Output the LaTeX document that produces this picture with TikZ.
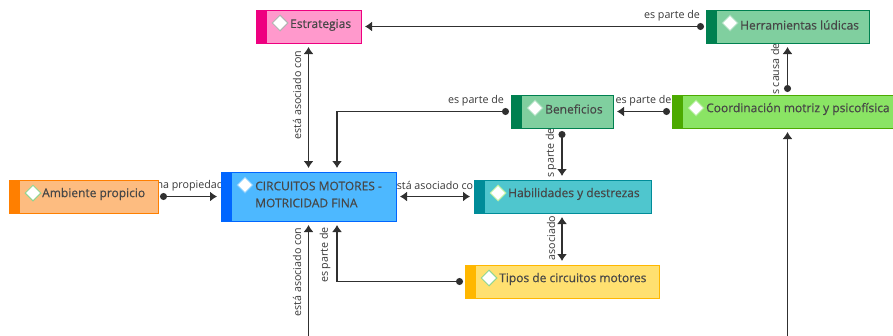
\documentclass[tikz,border=0pt]{standalone}
\usepackage{fontspec}
\setmainfont{Open Sans}
\newfontfamily\cajafont[FakeBold=0.45]{Open Sans}
\usetikzlibrary{arrows.meta,shapes.geometric}
\definecolor{naranja}{HTML}{FDBC80}
\definecolor{naranjab}{HTML}{FF7F00}
\definecolor{azul}{HTML}{4DB8FF}
\definecolor{azulb}{HTML}{0066FF}
\definecolor{rosa}{HTML}{FF99CC}
\definecolor{rosab}{HTML}{EE0080}
\definecolor{verde}{HTML}{80CF9F}
\definecolor{verdeb}{HTML}{008050}
\definecolor{lima}{HTML}{8AE464}
\definecolor{limab}{HTML}{4CAA00}
\definecolor{turq}{HTML}{4FC6CE}
\definecolor{turqb}{HTML}{008C99}
\definecolor{amar}{HTML}{FFE070}
\definecolor{amarb}{HTML}{FFB700}
\definecolor{linea}{HTML}{303030}
\tikzset{
  caja/.style n args={2}{rectangle,draw=#2,line width=0.9pt,fill=#1,inner sep=0pt,outer sep=0pt,
    path picture={\fill[#2] (path picture bounding box.north west) rectangle ++(11,60);}},
  rombo/.style={diamond,draw=#1,line width=1pt,fill=white,inner sep=0pt,minimum width=16,minimum height=16},
  texto/.style={anchor=west,inner sep=0pt,text=black!72,font=\cajafont\fontsize{12}{17}\selectfont,align=left},
  etiq/.style={inner sep=0pt,text=black!78,font=\fontsize{10.7}{12}\selectfont},
  linkp/.style={line width=1.2pt,draw=linea,shorten >=4,shorten <=2},
  dot/.style={{Circle[length=7,width=7]}->},
}
\begin{document}
\begin{tikzpicture}[>={Latex[length=7,width=10]},x=1pt,y=-1pt]
\useasboundingbox (0,0) rectangle (893,335);
\clip (0,0) rectangle (893,335);
\coordinate (c1) at (337,172);
\coordinate (c2) at (337,221);
\coordinate (b1) at (308.5,340);
\coordinate (b2) at (787.5,340);

% etiquetas
\node (e1) at (672,15.5)[etiq]{es parte de};
\node (e2) at (476,100.5)[etiq]{es parte de};
\node (e3) at (643.5,100.5)[etiq]{es parte de};
\node (e4) at (775,69)[etiq,rotate=90]{s causa de};
\node (e5) at (551,153)[etiq,rotate=90]{s parte de};
\node (e6) at (551,238)[etiq,rotate=90]{asociado};
\node (e7) at (297,95)[etiq,rotate=90]{está asociado con};
\node (e8) at (297,272)[etiq,rotate=90]{está asociado con};
\node (e9) at (325,255)[etiq,rotate=90]{es parte de};
\node (e10) at (190,185.5)[etiq]{na propiedad};
\node (e11) at (435,185.5)[etiq]{stá asociado co};

% cajas
\node (ambi) at (83.5,196.5)[caja={naranja}{naranjab},minimum width=149,minimum height=33]{};
\node (circ) at (308.5,196.5)[caja={azul}{azulb},minimum width=175,minimum height=49]{};
\node (estr) at (308.5,26.5)[caja={rosa}{rosab},minimum width=105,minimum height=33]{};
\node (herr) at (787.5,26.5)[caja={verde}{verdeb},minimum width=163,minimum height=33]{};
\node (bene) at (562,111.5)[caja={verde}{verdeb},minimum width=102,minimum height=33]{};
\node (coor) at (787.5,111.5)[caja={lima}{limab},minimum width=231,minimum height=33]{};
\node (habi) at (562.5,196.5)[caja={turq}{turqb},minimum width=177,minimum height=33]{};
\node (tipo) at (562,281.5)[caja={amar}{amarb},minimum width=194,minimum height=33]{};

\node (r1) at (33,193)[rombo=green!45!gray!60]{};
\node (r2) at (245,185)[rombo=azul!70!white]{};
\node (r3) at (280,23)[rombo=gray!60]{};
\node (r4) at (730,23)[rombo=verde!70!white]{};
\node (r5) at (535,108)[rombo=verde!70!white]{};
\node (r6) at (696,108)[rombo=lima!70!white]{};
\node (r7) at (498,193)[rombo=lima!60!white]{};
\node (r8) at (489,278)[rombo=green!45!gray!60]{};

\node (t1) at (42,194)[texto]{Ambiente propicio};
\node (t2) at (255,194.5)[texto]{CIRCUITOS MOTORES -\\MOTRICIDAD FINA};
\node (t3) at (290,25)[texto]{Estrategias};
\node (t4) at (740,25)[texto]{Herramientas lúdicas};
\node (t5) at (545,109)[texto]{Beneficios};
\node (t6) at (706,109)[texto]{Coordinación motriz y psicofísica};
\node (t7) at (508,194)[texto]{Habilidades y destrezas};
\node (t8) at (499,279)[texto]{Tipos de circuitos motores};

% conectores
\draw[linkp,dot](ambi.east)--(circ.west|-ambi.east);
\draw[linkp,<->,shorten <=4](circ.east|-habi.west)--(habi.west);
\draw[linkp,<->,shorten <=4](estr)--(circ);
\draw[linkp,dot](herr)--(estr);
\draw[linkp,dot](bene.west)-|(c1);
\draw[linkp,dot](coor)--(bene);
\draw[linkp,dot,shorten <=3](coor)--(herr);
\draw[linkp,dot,shorten <=3](bene)--(habi.north-|bene);
\draw[linkp,<->,shorten <=4](habi.south-|tipo)--(tipo);
\draw[linkp,dot](tipo.west)-|(c2);
\draw[linkp,->](b1)--(circ);
\draw[linkp,->](b2)--(coor);
\end{tikzpicture}
\end{document}
